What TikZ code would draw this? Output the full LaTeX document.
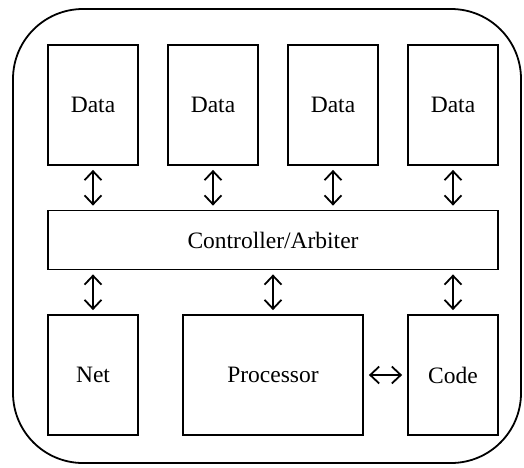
\documentclass[tikz,border=0pt]{standalone}
\usepackage{fontspec}
\setmainfont{Liberation Serif}
\usetikzlibrary{arrows.meta}
\begin{document}
\begin{tikzpicture}[x=1pt,y=-1pt,
  box/.style={draw,line width=1.8pt,inner sep=0pt,font=\fontsize{23.5}{26}\selectfont},
  link/.style={line width=1.8pt,{Straight Barb[length=9pt,width=17pt,line width=1.8pt]}-{Straight Barb[length=9pt,width=17pt,line width=1.8pt]}}]
\useasboundingbox (0,0) rectangle (524,467);
\draw[line width=1.8pt,rounded corners=70pt] (13,9) rectangle (521,463);
\node[box,minimum width=90pt,minimum height=120pt] (d1) at (93,105) {Data};
\node[box,minimum width=90pt,minimum height=120pt] (d2) at (213,105) {Data};
\node[box,minimum width=90pt,minimum height=120pt] (d3) at (333,105) {Data};
\node[box,minimum width=90pt,minimum height=120pt] (d4) at (453,105) {Data};
\node[box,minimum width=450pt,minimum height=59pt] (c) at (273,240) {Controller/Arbiter};
\node[box,minimum width=90pt,minimum height=120pt] (net) at (93,375) {Net};
\node[box,minimum width=180pt,minimum height=120pt] (p) at (273,375) {Processor};
\node[box,minimum width=90pt,minimum height=120pt] (code) at (453,375) {Code};
\foreach \n in {d1,d2,d3,d4}
  \draw[link] ([yshift=-4pt]\n.south) -- ([yshift=4pt]\n.south |- c.north);
\draw[link] ([yshift=-4pt]c.south -| net.north) -- ([yshift=4pt]net.north);
\draw[link] ([yshift=-4pt]c.south -| p.north) -- ([yshift=4pt]p.north);
\draw[link] ([yshift=-4pt]c.south -| code.north) -- ([yshift=4pt]code.north);
\draw[link] ([xshift=5pt]p.east) -- ([xshift=-5pt]code.west);
\end{tikzpicture}
\end{document}
